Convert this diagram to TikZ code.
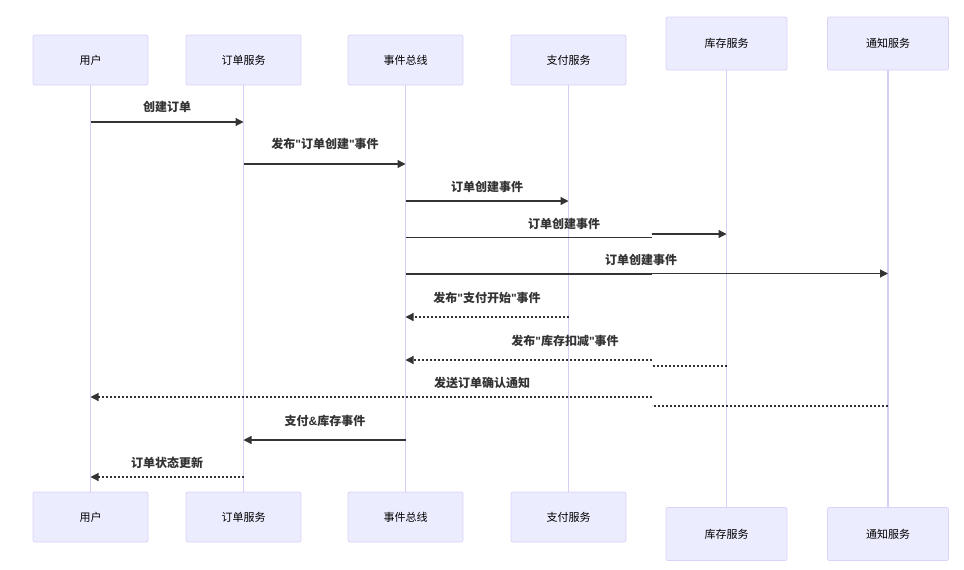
\documentclass[tikz,border=0pt]{standalone}
\usepackage{fontspec}
\setmainfont{Noto Sans CJK SC}
\newfontfamily\latinfont{Liberation Sans}
\newcommand{\dq}{{\latinfont\char"0022}}
\usetikzlibrary{arrows.meta}
\definecolor{boxfill}{HTML}{ECECFF}
\definecolor{boxline}{HTML}{DCD2F7}
\definecolor{lifecol}{HTML}{D8CDF5}
\definecolor{msgcol}{HTML}{333333}
\begin{document}
\begin{tikzpicture}[x=1pt,y=-1pt,
             actor/.style={draw=boxline, fill=boxfill, line width=0.8pt, rounded corners=2pt,
                minimum width=115pt, minimum height=50pt, inner sep=0pt,
                font=\fontsize{11}{13}\selectfont, text=black},
             bigactor/.style={actor, minimum width=121pt, minimum height=53pt},
             lifeline/.style={draw=lifecol, line width=1.8pt},
             msg/.style={draw=msgcol, line width=1.2pt, -{Triangle[length=8pt,width=8pt]}},
             reply/.style={msg, dash pattern=on 2pt off 2pt},
             seg/.style={draw=msgcol, line width=1.2pt},
             replyseg/.style={seg, dash pattern=on 2pt off 2pt},
             msglabel/.style={font=\bfseries\fontsize{12}{14}\selectfont, text=msgcol, inner sep=0pt},
          ]
          \useasboundingbox (0,0) rectangle (964,570);

          % actors, top row
          \node at (90.5,60) (userT) [actor] {用户};
          \node at (243.5,60) (orderT) [actor] {订单服务};
          \node at (405.5,60) (busT) [actor] {事件总线};
          \node at (568.5,60) (payT) [actor] {支付服务};
          \node at (726.5,43.5) (stockT) [bigactor] {库存服务};
          \node at (888,43.5) (noteT) [bigactor] {通知服务};
          % actors, bottom row
          \node at (90.5,517) (userB) [actor] {用户};
          \node at (243.5,517) (orderB) [actor] {订单服务};
          \node at (405.5,517) (busB) [actor] {事件总线};
          \node at (568.5,517) (payB) [actor] {支付服务};
          \node at (726.5,534) (stockB) [bigactor] {库存服务};
          \node at (888,534) (noteB) [bigactor] {通知服务};

          \draw[lifeline] (userT.south) -- (userB.north);
          \draw[lifeline] (orderT.south) -- (orderB.north);
          \draw[lifeline] (busT.south) -- (busB.north);
          \draw[lifeline] (payT.south) -- (payB.north);
          \draw[lifeline] (stockT.south) -- (stockB.north);
          \draw[lifeline] (noteT.south) -- (noteB.north);

          % break points where the rows do not line up
          \coordinate (j4a) at (652,237.5);
          \coordinate (j4b) at (652,234);
          \coordinate (j5a) at (652,274);
          \coordinate (j5b) at (652,273.5);
          \coordinate (j7a) at (652,366);
          \coordinate (j7b) at (652,360);
          \coordinate (j8a) at (652,406);
          \coordinate (j8b) at (652,397);

          % messages
          \draw[msg] (userT |- 0,122) -- (orderT |- 0,122);
          \draw[msg] (orderT |- 0,164) -- (busT |- 0,164);
          \draw[msg] (busT |- 0,201) -- (payT |- 0,201);
          \draw[seg] (busT |- j4a) -- (j4a);
          \draw[msg] (j4b) -- (stockT |- j4b);
          \draw[seg] (busT |- j5a) -- (j5a);
          \draw[msg] (j5b) -- (noteT |- j5b);
          \draw[reply] (payT |- 0,317) -- (busT |- 0,317);
          \draw[replyseg] (stockT |- j7a) -- (j7a);
          \draw[reply] (j7b) -- (busT |- j7b);
          \draw[replyseg] (noteT |- j8a) -- (j8a);
          \draw[reply] (j8b) -- (userT |- j8b);
          \draw[msg] (busT |- 0,440) -- (orderT |- 0,440);
          \draw[reply] (orderT |- 0,477) -- (userT |- 0,477);

          \node at (167,107) (l1) [msglabel] {创建订单};
          \node at (325,144) (l2) [msglabel] {发布\dq 订单创建\dq 事件};
          \node at (487,187) (l3) [msglabel] {订单创建事件};
          \node at (564,224) (l4) [msglabel] {订单创建事件};
          \node at (641,260) (l5) [msglabel] {订单创建事件};
          \node at (487,298) (l6) [msglabel] {发布\dq 支付开始\dq 事件};
          \node at (565,341) (l7) [msglabel] {发布\dq 库存扣减\dq 事件};
          \node at (482,383) (l8) [msglabel] {发送订单确认通知};
          \node at (325,421) (l9) [msglabel] {支付{\latinfont\&}库存事件};
          \node at (167,463) (l10) [msglabel] {订单状态更新};
\end{tikzpicture}
\end{document}
